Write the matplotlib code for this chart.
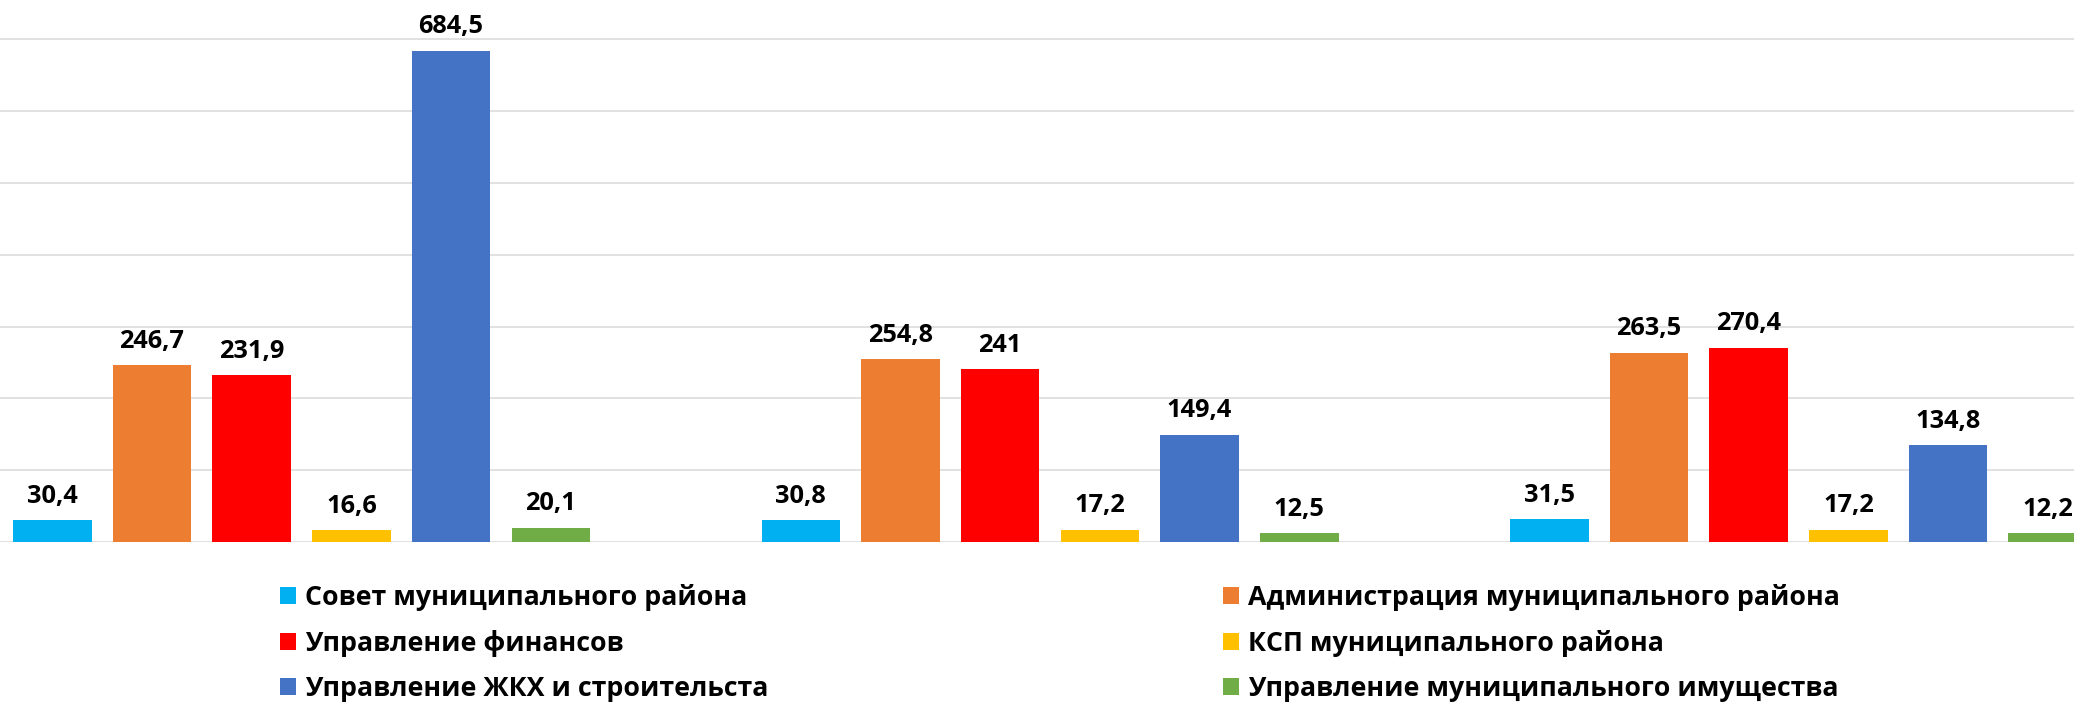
import matplotlib
matplotlib.use("Agg")
import matplotlib.pyplot as plt
import numpy as np

series_names = [
    "Совет муниципального района",
    "Администрация муниципального района",
    "Управление финансов",
    "КСП муниципального района",
    "Управление ЖКХ и строительста",
    "Управление муниципального имущества",
]
colors = ["#00B0F0", "#ED7D31", "#FF0000", "#FFC000", "#4472C4", "#70AD47"]
groups = ["1", "2", "3"]
values = [
    [30.4, 30.8, 31.5],
    [246.7, 254.8, 263.5],
    [231.9, 241.0, 270.4],
    [16.6, 17.2, 17.2],
    [684.5, 149.4, 134.8],
    [20.1, 12.5, 12.2],
]

def fmt(v):
    s = ("%.1f" % v)
    if s.endswith(".0"):
        s = s[:-2]
    return s.replace(".", ",")

W, H = 2074, 702
dpi = 100
fig = plt.figure(figsize=(W / dpi, H / dpi), dpi=dpi)
base_px = 542
ax = fig.add_axes([0, (H - base_px) / H, 1, base_px / H])

FONT = "Open Sans"
lab_fs = 18.3

group_px = 748.5
pitch = 99.7 / group_px
width = 78.5 / group_px
x = np.arange(len(groups))
handles = []
for j, (name, col, vals) in enumerate(zip(series_names, colors, values)):
    xs = x + (j - 2.5) * pitch
    b = ax.bar(xs, vals, width=width, color=col, label=name, zorder=3)
    handles.append(b)
    for xi, v in zip(xs, vals):
        ax.annotate(fmt(v), (xi, v), xytext=(0, 12.5), textcoords="offset points",
                    ha="center", va="baseline", fontsize=lab_fs, fontweight="bold",
                    family=FONT, color="black", annotation_clip=False, zorder=4)

g0 = 13 + 2.5 * 99.7 + 39.25
ax.set_xlim(-g0 / group_px, (W - g0) / group_px)
ax.set_ylim(0, base_px / 71.8 * 100)
ax.set_yticks(np.arange(0, 701, 100))
ax.yaxis.grid(True, color="#D9D9D9", linewidth=1.1, zorder=0)
ax.set_axisbelow(True)
ax.tick_params(left=False, bottom=False, labelleft=False, labelbottom=False)
for s in ax.spines.values():
    s.set_visible(False)

leg_fs = 19.3
col1 = [handles[0], handles[2], handles[4]]
col2 = [handles[1], handles[3], handles[5]]
common = dict(frameon=False, handlelength=0.58, handleheight=0.58,
              handletextpad=0.36, labelspacing=0.716, borderpad=0, borderaxespad=0,
              loc="center left", prop={"family": FONT, "weight": "bold", "size": leg_fs})
l1 = fig.legend(col1, [h.get_label() for h in col1],
                bbox_to_anchor=(280 / W, 1 - 643 / H), **common)
l2 = fig.legend(col2, [h.get_label() for h in col2],
                bbox_to_anchor=(1223 / W, 1 - 643 / H), **common)

fig.savefig("out.png", dpi=dpi)
